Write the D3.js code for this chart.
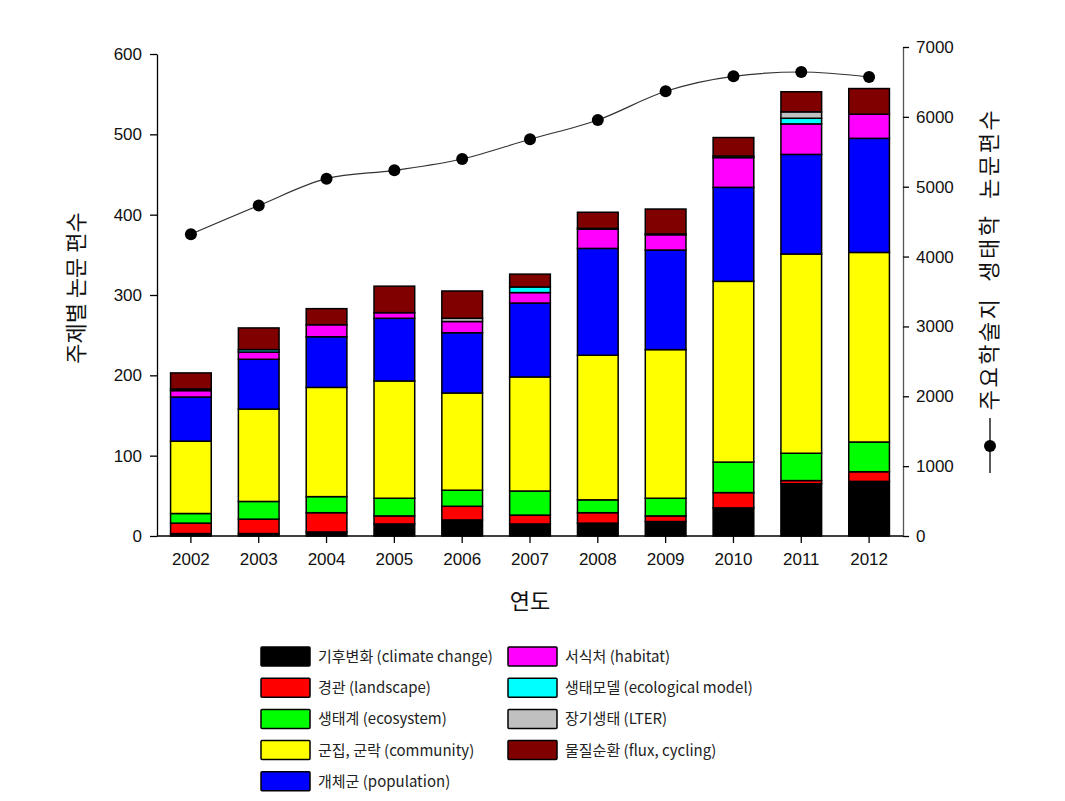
<!DOCTYPE html>
<html><head><meta charset="utf-8">
<script src="https://cdn.jsdelivr.net/npm/d3@7"></script>
<style>
body{margin:0;background:#fff;}
svg{display:block;}
</style></head>
<body>
<svg id="chart" width="1065" height="801"></svg>
<script>
const years = ["2002","2003","2004","2005","2006","2007","2008","2009","2010","2011","2012"];
const climate    = [3, 3, 5, 15, 20, 15, 16, 18, 35, 65, 68];
const landscape  = [13, 18, 24, 10, 17, 11, 13, 7, 19, 4, 12];
const ecosystem  = [12, 22, 20, 22, 20, 30, 16, 22, 38, 34, 37];
const community  = [90, 115, 136, 146, 121, 142, 180, 185, 225, 248, 236];
const population = [55, 62, 63, 78, 75, 92, 133, 124, 117, 124, 142];
const habitat    = [8, 9, 15, 7, 14, 13, 24, 19, 37, 38, 30];
const ecoModel   = [2, 3, 0, 0, 0, 7, 1, 1, 2, 7, 0];
const lter       = [0, 0, 0, 0, 4, 0, 0, 0, 0, 8, 0];
const flux       = [20, 27, 20, 33, 34, 16, 20, 31, 23, 25, 32];
const journalTotal = [4320, 4730, 5115, 5235, 5397, 5680, 5955, 6366, 6580, 6642, 6570];
const leftTicks = [0, 100, 200, 300, 400, 500, 600];
const rightTicks = [0, 1000, 2000, 3000, 4000, 5000, 6000, 7000];

const seriesNames = ["기후변화 (climate change)","경관 (landscape)","생태계 (ecosystem)","군집, 군락 (community)","개체군 (population)","서식처 (habitat)","생태모델 (ecological model)","장기생태 (LTER)","물질순환 (flux, cycling)"];
const seriesVals = [climate, landscape, ecosystem, community, population, habitat, ecoModel, lter, flux];
const colors = ["#000000","#ff0000","#00ff00","#ffff00","#0000ff","#ff00ff","#00ffff","#c0c0c0","#800000"];

const svg = d3.select("#chart");
const x0 = 157, x1 = 903, yBase = 536;
const x = d3.scaleBand().domain(years).range([x0, x1]).paddingInner(0.4).paddingOuter(0.2);
const yL = d3.scaleLinear().domain([0, 600]).range([yBase, 54]);
const yR = d3.scaleLinear().domain([0, 7000]).range([yBase, 47]);

const table = years.map((yr, i) => {
  const o = {year: yr};
  seriesNames.forEach((n, k) => o[n] = seriesVals[k][i]);
  return o;
});
const stacked = d3.stack().keys(seriesNames)(table);

const tickFont = "'Liberation Sans', Arial, sans-serif";
const krFont = "'Noto Sans CJK KR', sans-serif";

// bars
stacked.forEach((layer, k) => {
  svg.append("g").selectAll("rect")
    .data(layer.filter(d => d[1] - d[0] > 0))
    .join("rect")
    .attr("x", d => x(d.data.year))
    .attr("width", x.bandwidth())
    .attr("y", d => yL(d[1]))
    .attr("height", d => yL(d[0]) - yL(d[1]))
    .attr("fill", colors[k])
    .attr("stroke", "#000")
    .attr("stroke-width", 1.5);
});

// line
const line = d3.line()
  .x((d, i) => x(years[i]) + x.bandwidth() / 2)
  .y(d => yR(d))
  .curve(d3.curveMonotoneX);
svg.append("path").datum(journalTotal).attr("d", line)
  .attr("fill", "none").attr("stroke", "#333").attr("stroke-width", 1.2);
svg.append("g").selectAll("circle").data(journalTotal).join("circle")
  .attr("cx", (d, i) => x(years[i]) + x.bandwidth() / 2)
  .attr("cy", d => yR(d)).attr("r", 6).attr("fill", "#000");

// axes
const gL = svg.append("g").attr("transform", `translate(${x0},0)`)
  .call(d3.axisLeft(yL).tickValues(leftTicks).tickFormat(d3.format("d")).tickSize(7).tickPadding(8).tickSizeOuter(0));
const gR = svg.append("g").attr("transform", `translate(${x1},0)`)
  .call(d3.axisRight(yR).tickValues(rightTicks).tickFormat(d3.format("d")).tickSize(6).tickPadding(7).tickSizeOuter(0));
const gB = svg.append("g").attr("transform", `translate(0,${yBase})`)
  .call(d3.axisBottom(x).tickSize(7).tickPadding(10).tickSizeOuter(0));
gB.select(".domain").attr("d", `M${x0},0H${x1}`);
[gL, gR, gB].forEach(g => {
  g.selectAll("text").attr("font-family", tickFont).attr("font-size", 17).attr("fill", "#111");
  g.selectAll("line,path").attr("stroke", "#000").attr("stroke-width", 1.3);
});
gR.select(".domain").attr("stroke", "#555");

// axis titles
svg.append("text").attr("transform", "translate(84,288) rotate(-90)")
  .attr("text-anchor", "middle").attr("font-family", krFont).attr("font-size", 22)
  .attr("fill", "#111").text("주제별 논문 편수");
svg.append("text").attr("x", 530).attr("y", 609)
  .attr("text-anchor", "middle").attr("font-family", krFont).attr("font-size", 22)
  .attr("fill", "#111").text("연도");
svg.append("text").attr("transform", "translate(997,259) rotate(-90)")
  .attr("text-anchor", "middle").attr("font-family", krFont).attr("font-size", 22)
  .attr("letter-spacing", 2.5)
  .attr("fill", "#111").attr("xml:space", "preserve").text("주요학술지  생태학  논문편수");
svg.append("line").attr("x1", 990).attr("x2", 990).attr("y1", 418).attr("y2", 473)
  .attr("stroke", "#000").attr("stroke-width", 1.3);
svg.append("circle").attr("cx", 990).attr("cy", 446).attr("r", 6).attr("fill", "#000");

// legend
const legRows = 5;
const leg = svg.append("g");
seriesNames.forEach((n, k) => {
  const col = k < legRows ? 0 : 1;
  const row = k < legRows ? k : k - legRows;
  const bx = col === 0 ? 261 : 508;
  const by = 647 + row * 31.2;
  leg.append("rect").attr("x", bx).attr("y", by).attr("width", 49).attr("height", 19)
    .attr("fill", colors[k]).attr("stroke", "#000").attr("stroke-width", 1.5).attr("rx", 1);
  leg.append("text").attr("x", bx + 57).attr("y", by + 15)
    .attr("font-family", krFont).attr("font-size", 15).attr("fill", "#222").text(n);
});
</script>
</body></html>
